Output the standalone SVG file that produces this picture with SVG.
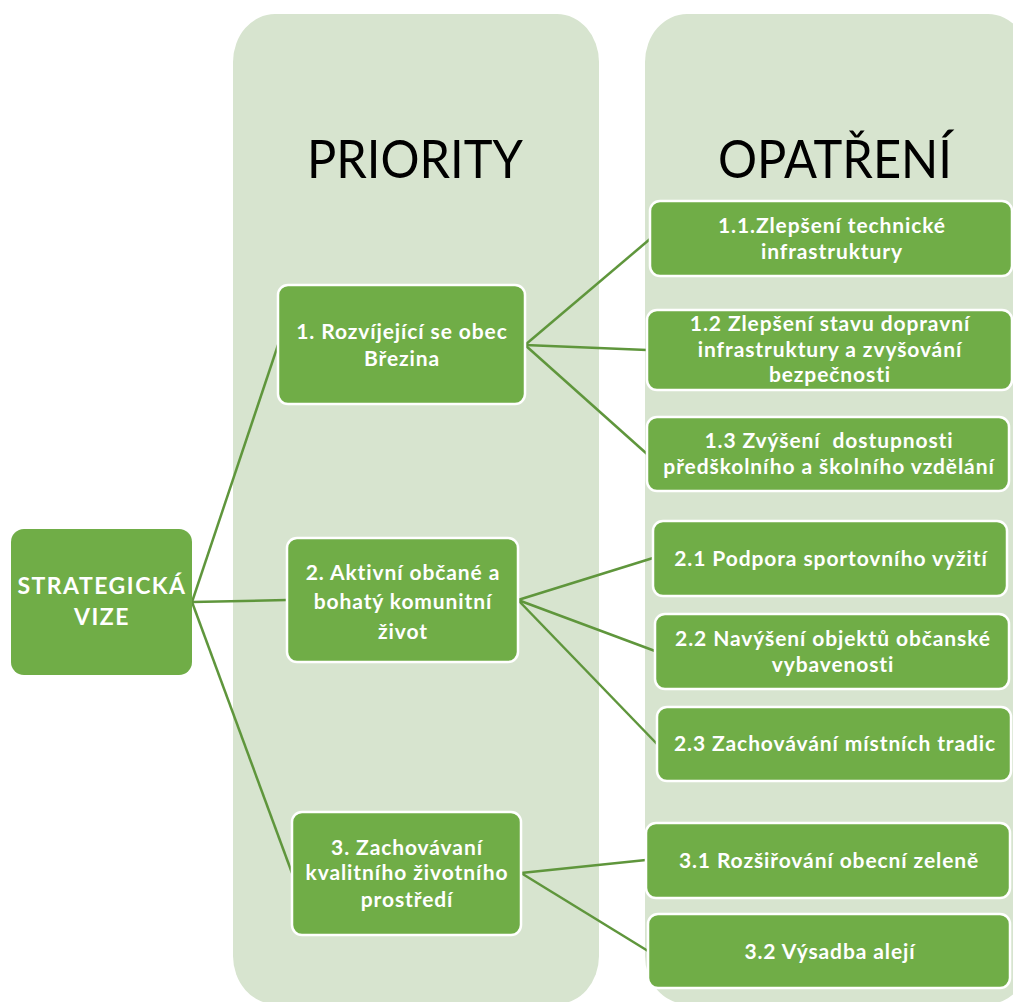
<svg xmlns="http://www.w3.org/2000/svg" width="1013" height="1002" viewBox="0 0 1013 1002">
<style>
.panel{fill:#d7e4cf}
.title{font-family:Lato,"Liberation Sans",sans-serif;font-weight:400;font-size:52px;fill:#000;text-anchor:middle}
.box{fill:#70ad47;stroke:#fff;stroke-width:2.5}
.lbl{font-family:Lato,"Open Sans",sans-serif;font-weight:700;font-size:21px;letter-spacing:0.9px;fill:#fff;text-anchor:middle}
.big{font-size:23px;letter-spacing:1.5px}
.conn{stroke:#5f963c;stroke-width:2.5;fill:none}
</style>
<rect width="1013" height="1002" fill="#fff"/>
<g id="panels">
<rect class="panel" x="233" y="14" width="366" height="990" rx="42" ry="48"/>
<rect class="panel" x="645" y="14" width="385" height="990" rx="42" ry="48"/>
<text class="title" x="415" y="178" textLength="216" lengthAdjust="spacingAndGlyphs">PRIORITY</text>
<text class="title" x="835" y="178" textLength="234" lengthAdjust="spacingAndGlyphs">OPATŘENÍ</text>
</g>
<g id="connectors">
<line class="conn" x1="192" y1="602" x2="278" y2="345"/>
<line class="conn" x1="192" y1="602" x2="287" y2="600"/>
<line class="conn" x1="192" y1="602" x2="292" y2="873"/>
<line class="conn" x1="525" y1="345" x2="650" y2="239"/>
<line class="conn" x1="525" y1="345" x2="647" y2="350"/>
<line class="conn" x1="525" y1="345" x2="647" y2="454"/>
<line class="conn" x1="518" y1="600" x2="653" y2="558"/>
<line class="conn" x1="518" y1="600" x2="655" y2="651"/>
<line class="conn" x1="518" y1="600" x2="657" y2="744"/>
<line class="conn" x1="521" y1="873" x2="646" y2="860"/>
<line class="conn" x1="521" y1="873" x2="648" y2="951"/>
</g>
<g id="vize">
<rect x="11" y="529" width="181" height="146" rx="13" fill="#70ad47"/>
<text class="lbl big" x="102" y="594">STRATEGICKÁ</text>
<text class="lbl big" x="102" y="625">VIZE</text>
</g>
<g id="p1">
<rect class="box" x="278" y="285" width="247" height="119" rx="10"/>
<text class="lbl" x="402" y="339">1. Rozvíjející se obec</text>
<text class="lbl" x="402" y="366">Březina</text>
</g>
<g id="p2">
<rect class="box" x="287" y="538" width="231" height="124" rx="10"/>
<text class="lbl" x="403" y="580">2. Aktivní občané a</text>
<text class="lbl" x="403" y="609">bohatý komunitní</text>
<text class="lbl" x="403" y="639">život</text>
</g>
<g id="p3">
<rect class="box" x="292" y="812" width="229" height="123" rx="10"/>
<text class="lbl" x="407" y="855">3. Zachovávaní</text>
<text class="lbl" x="407" y="880">kvalitního životního</text>
<text class="lbl" x="407" y="907">prostředí</text>
</g>
<g id="o11">
<rect class="box" x="650" y="201" width="362" height="75" rx="10"/>
<text class="lbl" x="832" y="233">1.1.Zlepšení technické</text>
<text class="lbl" x="832" y="259">infrastruktury</text>
</g>
<g id="o12">
<rect class="box" x="647" y="310" width="365" height="80" rx="10"/>
<text class="lbl" x="830" y="331">1.2 Zlepšení stavu dopravní</text>
<text class="lbl" x="830" y="357">infrastruktury a zvyšování</text>
<text class="lbl" x="830" y="382">bezpečnosti</text>
</g>
<g id="o13">
<rect class="box" x="647" y="417" width="362" height="74" rx="10"/>
<text class="lbl" x="829" y="448" style="white-space:pre">1.3 Zvýšení  dostupnosti</text>
<text class="lbl" x="829" y="474">předškolního a školního vzdělání</text>
</g>
<g id="o21">
<rect class="box" x="653" y="521" width="354" height="75" rx="10"/>
<text class="lbl" x="831" y="566">2.1 Podpora sportovního vyžití</text>
</g>
<g id="o22">
<rect class="box" x="655" y="614" width="354" height="75" rx="10"/>
<text class="lbl" x="833" y="646">2.2 Navýšení objektů občanské</text>
<text class="lbl" x="833" y="672">vybavenosti</text>
</g>
<g id="o23">
<rect class="box" x="657" y="707" width="354" height="74" rx="10"/>
<text class="lbl" x="835" y="751">2.3 Zachovávání místních tradic</text>
</g>
<g id="o31">
<rect class="box" x="646" y="823" width="364" height="75" rx="10"/>
<text class="lbl" x="829" y="868">3.1 Rozšiřování obecní zeleně</text>
</g>
<g id="o32">
<rect class="box" x="648" y="914" width="362" height="74" rx="10"/>
<text class="lbl" x="830" y="959">3.2 Výsadba alejí</text>
</g>
</svg>
